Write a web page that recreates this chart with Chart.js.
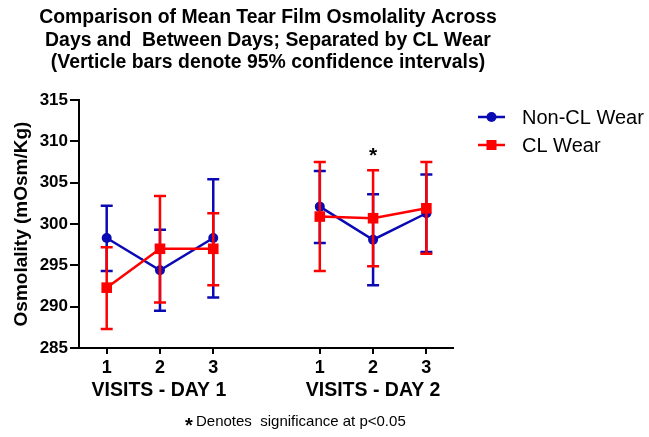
<!DOCTYPE html>
<html>
<head>
<meta charset="utf-8">
<script src="https://cdn.jsdelivr.net/npm/chart.js@4.4.1/dist/chart.umd.min.js"></script>
<style>
  html, body { margin: 0; padding: 0; background: #fff; }
  #wrap { width: 649px; height: 437px; }
</style>
</head>
<body>
<div id="wrap"><canvas id="c" width="649" height="437"></canvas></div>
<script>
// Visit labels and their x positions (a blank slot at 4 separates the two days)
const visitLabels = ['1', '2', '3', '1', '2', '3'];
const visitPositions = [1, 2, 3, 5, 6, 7];
const yTicks = [285, 290, 295, 300, 305, 310, 315];

// Non-CL wear: means and 95% CI limits (mOsm/Kg)
const nonClMean = [298.3, 294.4, 298.3, 302.1, 298.1, 301.3];
const nonClLow  = [294.3, 289.5, 291.1, 297.7, 292.6, 296.6];
const nonClHigh = [302.2, 299.3, 305.4, 306.4, 303.6, 306.0];

// CL wear: means and 95% CI limits (mOsm/Kg)
const clMean = [292.3, 297.0, 297.0, 300.9, 300.7, 301.9];
const clLow  = [287.3, 290.5, 292.6, 294.3, 294.9, 296.4];
const clHigh = [297.2, 303.4, 301.3, 307.5, 306.5, 307.5];

// Significant visit marker
const sigPosition = 6;
const sigValue = 308.9;

const BLUE = '#0a0ab4';
const RED = '#ff0000';
const FONT = '"Liberation Sans", Arial, sans-serif';

// Build {x,y} points, breaking the line between the two days
function toPoints(values) {
  const pts = [];
  visitPositions.forEach((p, i) => {
    if (i > 0 && p - visitPositions[i - 1] > 1) pts.push({ x: p - 1, y: null });
    pts.push({ x: p, y: values[i] });
  });
  return pts;
}

const errorBars = {
  id: 'errorBars',
  beforeDatasetDraw(chart, args) {
    const ds = chart.data.datasets[args.index];
    if (!ds.low) return;
    const { ctx, scales: { x, y } } = chart;
    ctx.save();
    ctx.strokeStyle = ds.borderColor;
    ctx.lineWidth = 2.5;
    const cap = 6;
    visitPositions.forEach((p, i) => {
      const px = x.getPixelForValue(p);
      const yl = y.getPixelForValue(ds.low[i]);
      const yh = y.getPixelForValue(ds.high[i]);
      ctx.beginPath();
      ctx.moveTo(px, yl); ctx.lineTo(px, yh);
      ctx.moveTo(px - cap, yl); ctx.lineTo(px + cap, yl);
      ctx.moveTo(px - cap, yh); ctx.lineTo(px + cap, yh);
      ctx.stroke();
    });
    ctx.restore();
  }
};

const annotations = {
  id: 'annotations',
  afterDraw(chart) {
    const { ctx, scales: { x, y } } = chart;
    ctx.save();
    ctx.fillStyle = '#000';
    ctx.textBaseline = 'alphabetic';

    // Title
    ctx.font = 'bold 19.4px ' + FONT;
    ctx.textAlign = 'center';
    const titleX = 268;
    ['Comparison of Mean Tear Film Osmolality Across',
     'Days and  Between Days; Separated by CL Wear',
     '(Verticle bars denote 95% confidence intervals)'].forEach((t, i) => {
      ctx.fillText(t, titleX, 23 + i * 22.5);
    });

    // Day group labels
    ctx.font = 'bold 19.5px ' + FONT;
    ctx.fillText('VISITS - DAY 1', x.getPixelForValue(2) - 1, 396);
    ctx.fillText('VISITS - DAY 2', x.getPixelForValue(6), 396);

    // Significance asterisk above the visit
    ctx.font = 'bold 21px ' + FONT;
    ctx.fillText('*', x.getPixelForValue(sigPosition), y.getPixelForValue(sigValue) + 12);

    // Footnote
    ctx.font = 'bold 20px ' + FONT;
    ctx.fillText('*', 189, 432);
    ctx.textAlign = 'left';
    ctx.font = '15px ' + FONT;
    ctx.fillText('Denotes  significance at p<0.05', 196, 426);

    // Legend
    chart.data.datasets.forEach((ds, i) => {
      const ly = 117 + i * 28;
      ctx.strokeStyle = ds.borderColor;
      ctx.fillStyle = ds.borderColor;
      ctx.lineWidth = 2.5;
      ctx.beginPath();
      ctx.moveTo(478, ly); ctx.lineTo(505, ly);
      ctx.stroke();
      if (ds.pointStyle === 'rect') {
        ctx.fillRect(491.5 - 5, ly - 5, 10, 10);
      } else {
        ctx.beginPath();
        ctx.arc(491.5, ly, 5, 0, Math.PI * 2);
        ctx.fill();
      }
      ctx.fillStyle = '#000';
      ctx.font = '20px ' + FONT;
      ctx.textBaseline = 'middle';
      ctx.fillText(ds.label, 522, ly + 1);
    });

    // Y axis title
    ctx.save();
    ctx.translate(22, (y.top + y.bottom) / 2);
    ctx.rotate(-Math.PI / 2);
    ctx.textAlign = 'center';
    ctx.textBaseline = 'middle';
    ctx.font = 'bold 19px ' + FONT;
    ctx.fillText('Osmolality (mOsm/Kg)', 0, 0);
    ctx.restore();

    ctx.restore();
  }
};

new Chart(document.getElementById('c'), {
  type: 'line',
  data: {
    datasets: [
      {
        label: 'Non-CL Wear',
        data: toPoints(nonClMean),
        low: nonClLow,
        high: nonClHigh,
        borderColor: BLUE,
        backgroundColor: BLUE,
        borderWidth: 2.5,
        pointStyle: 'circle',
        pointRadius: 5,
        pointBorderWidth: 0,
        spanGaps: false,
        order: 1
      },
      {
        label: 'CL Wear',
        data: toPoints(clMean),
        low: clLow,
        high: clHigh,
        borderColor: RED,
        backgroundColor: RED,
        borderWidth: 2.5,
        pointStyle: 'rect',
        pointRadius: 7.5,
        pointBorderWidth: 0,
        spanGaps: false,
        order: 0
      }
    ]
  },
  options: {
    responsive: false,
    animation: false,
    devicePixelRatio: 1,
    layout: { padding: { top: 100, right: 196, bottom: 0, left: 0 } },
    plugins: { legend: { display: false }, title: { display: false }, tooltip: { enabled: false } },
    scales: {
      x: {
        type: 'linear',
        min: 0.48,
        max: 7.5,
        afterFit(scale) { scale.height = 89; },
        afterBuildTicks(scale) { scale.ticks = visitPositions.map(v => ({ value: v })); },
        ticks: {
          callback(value) {
            const i = visitPositions.indexOf(value);
            return i >= 0 ? visitLabels[i] : '';
          },
          color: '#000',
          font: { family: FONT, size: 18, weight: 'bold' },
          padding: 3,
          maxRotation: 0,
          autoSkip: false
        },
        grid: { drawOnChartArea: false, drawTicks: true, tickLength: 6, color: '#000', lineWidth: 2 },
        border: { color: '#000', width: 2 }
      },
      y: {
        min: 285,
        max: 315,
        afterFit(scale) { scale.width = 79; },
        afterBuildTicks(scale) { scale.ticks = yTicks.map(v => ({ value: v })); },
        ticks: {
          color: '#000',
          font: { family: FONT, size: 17, weight: 'bold' },
          padding: 2
        },
        grid: { drawOnChartArea: false, drawTicks: true, tickLength: 9, color: '#000', lineWidth: 2 },
        border: { color: '#000', width: 2 }
      }
    }
  },
  plugins: [errorBars, annotations]
});
</script>
</body>
</html>
